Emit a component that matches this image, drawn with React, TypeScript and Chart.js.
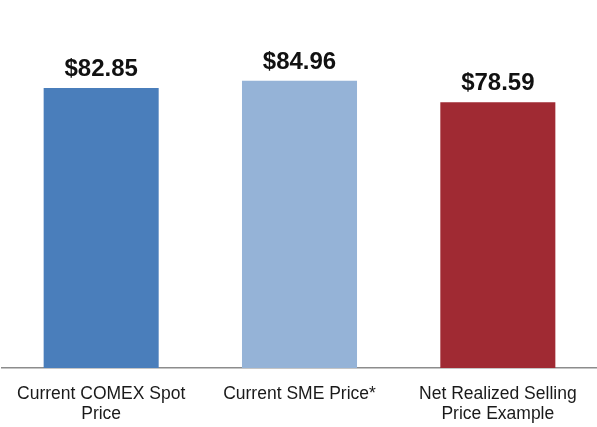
import React, { useEffect, useRef } from "react";
import { Chart, registerables } from "chart.js";

Chart.register(...registerables);

const categories: string[][] = [
  ["Current COMEX Spot", "Price"],
  ["Current SME Price*"],
  ["Net Realized Selling", "Price Example"],
];
const values: number[] = [82.85, 84.96, 78.59];
const valueLabels: string[] = ["$82.85", "$84.96", "$78.59"];
const barColors: string[] = ["#4a7ebb", "#95b3d7", "#a02a33"];

const valueLabelPlugin = {
  id: "valueLabels",
  afterDatasetsDraw(chart: any) {
    const ctx = chart.ctx;
    const meta = chart.getDatasetMeta(0);
    ctx.save();
    ctx.font = "bold 24px 'Liberation Sans', Arial, sans-serif";
    ctx.fillStyle = "#111111";
    ctx.textAlign = "center";
    ctx.textBaseline = "alphabetic";
    meta.data.forEach((bar: any, i: number) => {
      ctx.fillText(valueLabels[i], bar.x, bar.y - 12);
    });
    ctx.restore();
  },
};

export default function App() {
  const ref = useRef<HTMLCanvasElement | null>(null);
  useEffect(() => {
    if (!ref.current) return;
    const chart = new Chart(ref.current, {
      type: "bar",
      data: {
        labels: categories,
        datasets: [
          {
            data: values,
            backgroundColor: barColors,
            borderWidth: 0,
            barPercentage: 0.58,
            categoryPercentage: 1,
          },
        ],
      },
      options: {
        responsive: false,
        animation: false,
        maintainAspectRatio: false,
        layout: { padding: { left: 2, right: 0, top: 30, bottom: 0 } },
        plugins: {
          legend: { display: false },
          tooltip: { enabled: false },
        },
        scales: {
          x: {
            grid: { display: false },
            border: { display: true, color: "#8c8c8c", width: 1.5 },
            afterFit: (scale: any) => {
              scale.height = 59;
            },
            ticks: {
              color: "#1a1a1a",
              font: { family: "'Liberation Sans', Arial, sans-serif", size: 17.5, lineHeight: 1.1 },
              padding: 9,
              maxRotation: 0,
              autoSkip: false,
            },
          },
          y: {
            display: false,
            min: 0,
            max: 100,
          },
        },
      },
      plugins: [valueLabelPlugin],
    });
    return () => chart.destroy();
  }, []);
  return (
    <div style={{ position: "fixed", left: 0, top: 0, width: 597, height: 427, background: "#fff" }}>
      <canvas ref={ref} width={597} height={427} style={{ width: 597, height: 427 }} />
    </div>
  );
}
